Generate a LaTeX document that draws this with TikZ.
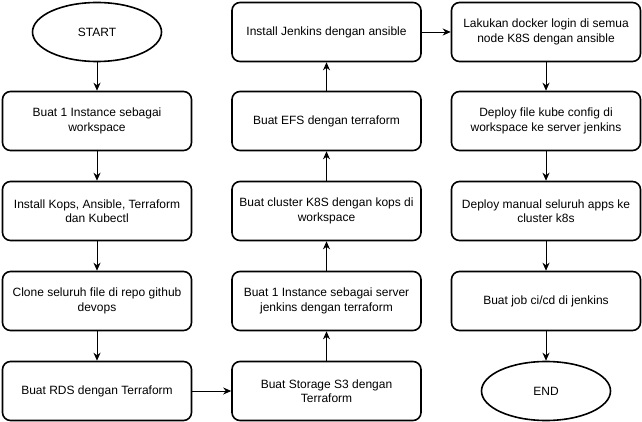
\documentclass[tikz,border=0pt]{standalone}
\usepackage{fontspec}
\setmainfont{Liberation Sans}
\usetikzlibrary{arrows.meta,shapes.geometric}
\begin{document}
\begin{tikzpicture}[x=1pt,y=-1pt,
  box/.style={draw, line width=1.6pt, rounded corners=8pt, minimum width=189pt, minimum height=59pt, align=center, inner sep=2pt, font=\fontsize{12}{14.5}\selectfont},
  term/.style={draw, ellipse, line width=1.6pt, minimum width=129pt, minimum height=59pt, inner sep=0pt, font=\fontsize{12}{14.5}\selectfont},
  arr/.style={-{Stealth[length=8pt,width=7pt,inset=2.5pt]}, line width=0.9pt}]
\useasboundingbox (0,0) rectangle (642,422);
% column 1
\node[term] (start) at (97,32) {START};
\node[box] (a1) at (97,121) {Buat 1 Instance sebagai\\workspace};
\node[box] (a2) at (97,211) {Install Kops, Ansible, Terraform\\dan Kubectl};
\node[box] (a3) at (97,301) {Clone seluruh file di repo github\\devops};
\node[box] (a4) at (97,391) {Buat RDS dengan Terraform};
% column 2
\node[box] (b1) at (326.5,391) {Buat Storage S3 dengan\\Terraform};
\node[box] (b2) at (326.5,301) {Buat 1 Instance sebagai server\\jenkins dengan terraform};
\node[box] (b3) at (326.5,211) {Buat cluster K8S dengan kops di\\workspace};
\node[box] (b4) at (326.5,121) {Buat EFS dengan terraform};
\node[box] (b5) at (326.5,32) {Install Jenkins dengan ansible};
% column 3
\node[box] (c1) at (546,32) {Lakukan docker login di semua\\node K8S dengan ansible};
\node[box] (c2) at (546,121) {Deploy file kube config di\\workspace ke server jenkins};
\node[box] (c3) at (546,211) {Deploy manual seluruh apps ke\\cluster k8s};
\node[box] (c4) at (546,301) {Buat job ci/cd di jenkins};
\node[term] (end) at (546,391) {END};
% connectors
\draw[arr] (start) -- (a1);
\draw[arr] (a1) -- (a2);
\draw[arr] (a2) -- (a3);
\draw[arr] (a3) -- (a4);
\draw[arr] (a4) -- (b1);
\draw[arr] (b1) -- (b2);
\draw[arr] (b2) -- (b3);
\draw[arr] (b3) -- (b4);
\draw[arr] (b4) -- (b5);
\draw[arr] (b5) -- (c1);
\draw[arr] (c1) -- (c2);
\draw[arr] (c2) -- (c3);
\draw[arr] (c3) -- (c4);
\draw[arr] (c4) -- (end);
\end{tikzpicture}
\end{document}
